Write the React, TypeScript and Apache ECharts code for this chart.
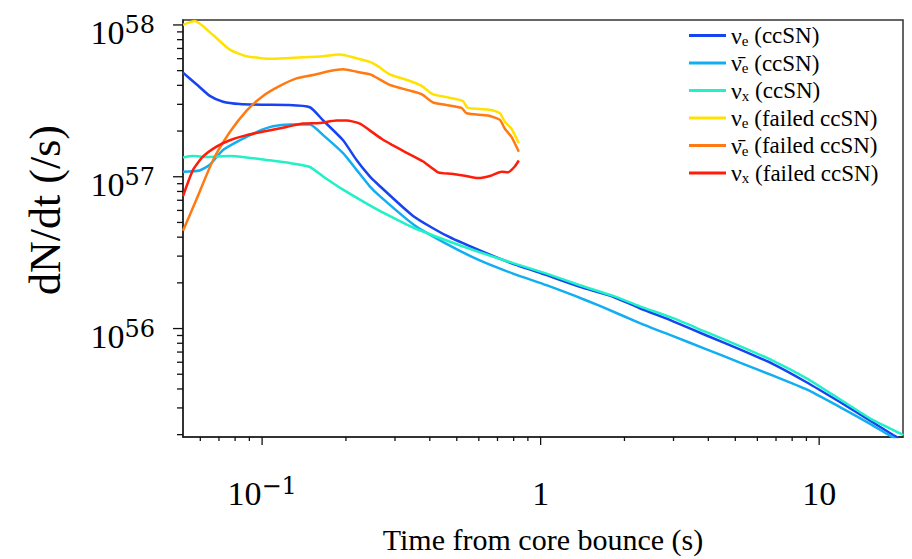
import React, { useEffect, useRef } from 'react';
import * as echarts from 'echarts';

const X_MIN = 0.052;
const X_MAX = 20;
const Y_MIN = 1.93e55;
const Y_MAX = 1.078e58;

const xMajorTicks = [0.1, 1, 10];
const xMinorTicks = [0.06, 0.07, 0.08, 0.09, 0.2, 0.3, 0.4, 0.5, 0.6, 0.7, 0.8, 0.9, 2, 3, 4, 5, 6, 7, 8, 9];
const yMajorTicks = [1e56, 1e57, 1e58];
const yMinorTicks = [2e55, 3e55, 4e55, 5e55, 6e55, 7e55, 8e55, 9e55, 2e56, 3e56, 4e56, 5e56, 6e56, 7e56, 8e56, 9e56, 2e57, 3e57, 4e57, 5e57, 6e57, 7e57, 8e57, 9e57];

const nueCC: [number, number][] = [
  [0.052, 4.85e57], [0.0581, 4.07e57], [0.0649, 3.41e57], [0.0724, 3.12e57], [0.0832, 3.01e57],
  [0.1008, 2.98e57], [0.1224, 2.97e57], [0.1484, 2.87e57], [0.1656, 2.35e57], [0.1953, 1.74e57],
  [0.2183, 1.29e57], [0.2435, 1.005e57], [0.2575, 9.09e56], [0.3484, 5.52e56], [0.4594, 4.09e56],
  [0.6047, 3.27e56], [0.7966, 2.67e56], [1.05, 2.25e56], [1.383, 1.885e56], [1.821, 1.62e56],
  [2.271, 1.36e56], [2.99, 1.116e56], [3.942, 9.0e55], [5.192, 7.3e55], [6.836, 5.83e55],
  [9.01, 4.43e55], [11.87, 3.28e55], [14.8, 2.56e55], [18.44, 1.99e55], [19.3, 1.9e55],
];
const anueCC: [number, number][] = [
  [0.052, 1.08e57], [0.0597, 1.10e57], [0.0649, 1.20e57], [0.0724, 1.50e57], [0.0832, 1.74e57],
  [0.0955, 1.97e57], [0.1095, 2.15e57], [0.1257, 2.21e57], [0.1484, 2.21e57], [0.1656, 1.88e57],
  [0.1953, 1.43e57], [0.2183, 1.11e57], [0.2435, 8.65e56], [0.2647, 7.45e56], [0.3484, 4.87e56],
  [0.4594, 3.61e56], [0.6047, 2.81e56], [0.7966, 2.30e56], [1.05, 1.93e56], [1.308, 1.66e56],
  [1.632, 1.41e56], [2.271, 1.087e56], [2.99, 8.91e55], [3.942, 7.3e55], [5.192, 5.97e55],
  [6.836, 4.89e55], [9.01, 3.97e55], [11.87, 3.04e55], [14.8, 2.43e55], [17.94, 1.97e55], [18.8, 1.88e55],
];
const nuxCC: [number, number][] = [
  [0.052, 1.34e57], [0.0565, 1.37e57], [0.0632, 1.35e57], [0.0766, 1.37e57], [0.088, 1.34e57],
  [0.1037, 1.29e57], [0.1257, 1.23e57], [0.1484, 1.16e57], [0.1656, 1.005e57], [0.1953, 8.22e56],
  [0.2435, 6.47e56], [0.2647, 5.95e56], [0.3484, 4.63e56], [0.4594, 3.80e56], [0.6047, 3.18e56],
  [0.7966, 2.70e56], [1.05, 2.30e56], [1.383, 1.93e56], [1.821, 1.64e56], [2.271, 1.40e56],
  [2.99, 1.17e56], [3.942, 9.46e55], [5.192, 7.67e55], [6.836, 6.13e55], [9.01, 4.70e55],
  [11.87, 3.42e55], [15.63, 2.49e55], [19.76, 2.02e55], [20, 1.98e55],
];
const nueFail: [number, number][] = [
  [0.052, 1.0e58], [0.0573, 1.06e58], [0.0665, 8.61e57], [0.0766, 6.88e57], [0.088, 6.22e57],
  [0.1092, 5.98e57], [0.140, 6.13e57], [0.161, 6.19e57], [0.190, 6.38e57], [0.2117, 6.13e57],
  [0.2435, 5.71e57], [0.2603, 5.35e57], [0.2873, 4.73e57], [0.3336, 4.32e57], [0.3736, 3.97e57],
  [0.410, 3.50e57], [0.453, 3.36e57], [0.5255, 3.16e57], [0.5477, 2.84e57], [0.646, 2.77e57],
  [0.714, 2.62e57], [0.744, 2.30e57], [0.786, 2.07e57], [0.835, 1.66e57],
];
const anueFail: [number, number][] = [
  [0.052, 4.41e56], [0.0581, 7.08e56], [0.0667, 1.29e57], [0.0766, 1.97e57], [0.088, 2.73e57],
  [0.1008, 3.41e57], [0.1158, 3.97e57], [0.1329, 4.45e57], [0.1525, 4.68e57], [0.175, 4.97e57],
  [0.1954, 5.10e57], [0.2183, 4.92e57], [0.2435, 4.73e57], [0.2603, 4.45e57], [0.2873, 4.03e57],
  [0.3336, 3.72e57], [0.3736, 3.50e57], [0.410, 3.09e57], [0.453, 2.98e57], [0.520, 2.84e57],
  [0.542, 2.62e57], [0.648, 2.53e57], [0.714, 2.37e57], [0.744, 2.07e57], [0.786, 1.83e57], [0.835, 1.46e57],
];
const nuxFail: [number, number][] = [
  [0.052, 7.45e56], [0.0565, 1.11e57], [0.0614, 1.36e57], [0.0686, 1.58e57], [0.0766, 1.74e57],
  [0.088, 1.88e57], [0.1037, 2.00e57], [0.1224, 2.13e57], [0.1404, 2.24e57], [0.161, 2.26e57],
  [0.185, 2.35e57], [0.201, 2.35e57], [0.2243, 2.24e57], [0.2435, 2.02e57], [0.2684, 1.78e57],
  [0.2915, 1.63e57], [0.3254, 1.46e57], [0.3787, 1.26e57], [0.4285, 1.07e57], [0.4786, 1.045e57],
  [0.534, 1.015e57], [0.5965, 9.8e56], [0.6664, 1.02e57], [0.724, 1.08e57], [0.7645, 1.07e57],
  [0.808, 1.17e57], [0.835, 1.28e57],
];

const seriesNames = ['nue_cc', 'anue_cc', 'nux_cc', 'nue_fail', 'anue_fail', 'nux_fail'];
const seriesData = [nueCC, anueCC, nuxCC, nueFail, anueFail, nuxFail];
const seriesColors = ['#1744f2', '#12aef2', '#22f0c6', '#ffe200', '#ff7a12', '#ff1c08'];
const legendLabels: Record<string, string> = {
  nue_cc: '{g|ν}{sub|e}{t| (ccSN)}',
  anue_cc: '{g|ν\u0304}{sub|e}{t| (ccSN)}',
  nux_cc: '{g|ν}{sub|x}{t| (ccSN)}',
  nue_fail: '{g|ν}{sub|e}{t| (failed ccSN)}',
  anue_fail: '{g|ν\u0304}{sub|e}{t| (failed ccSN)}',
  nux_fail: '{g|ν}{sub|x}{t| (failed ccSN)}',
};
const xTitle = 'Time from core bounce (s)';
const yTitle = 'dN/dt (/s)';

const SERIF = "'Liberation Serif', 'DejaVu Serif', serif";
const SUPFONT = "'DejaVu Serif', 'Liberation Serif', serif";

export default function App() {
  const ref = useRef<HTMLDivElement>(null);
  useEffect(() => {
    const chart = echarts.init(ref.current as HTMLDivElement, null, { renderer: 'svg' });
    const rich = {
      b: { fontSize: 34, fontFamily: SERIF, color: '#000', lineHeight: 34, padding: [15, 0, 0, 0] },
      s: { fontSize: 24, fontFamily: SUPFONT, color: '#000', lineHeight: 24, padding: [0, 0, 0, 0] },
    };
    const isPow = (v: number) => Math.abs(Math.log10(v) - Math.round(Math.log10(v))) < 1e-6;
    const tickSeries = (axis: 'x' | 'y', values: number[], len: number) => ({
      type: 'custom',
      silent: true,
      clip: false,
      z: 10,
      data: values.map((v) => (axis === 'x' ? [v, Y_MIN] : [X_MIN, v])),
      renderItem: (_p: any, api: any) => {
        const p = api.coord([api.value(0), api.value(1)]);
        return axis === 'x'
          ? { type: 'line', shape: { x1: p[0], y1: p[1], x2: p[0], y2: p[1] + len }, style: { stroke: '#111', lineWidth: 1.3 } }
          : { type: 'line', shape: { x1: p[0] - len, y1: p[1], x2: p[0], y2: p[1] }, style: { stroke: '#111', lineWidth: 1.3 } };
      },
    });
    const option: any = {
      animation: false,
      backgroundColor: '#fff',
      grid: { left: 183, right: 9, top: 20, bottom: 117, show: true, borderColor: '#333', borderWidth: 1.5 },
      legend: {
        data: seriesNames,
        orient: 'vertical',
        left: 684,
        top: 18,
        icon: 'rect',
        itemWidth: 37,
        itemHeight: 3,
        itemGap: 2.5,
        selectedMode: false,
        formatter: (n: string) => legendLabels[n],
        textStyle: {
          rich: {
            g: { fontSize: 24, fontFamily: SERIF, color: '#000', lineHeight: 26 },
            sub: { fontSize: 15, fontFamily: SERIF, color: '#000', lineHeight: 16, padding: [10, 0, 0, 0] },
            t: { fontSize: 23, fontFamily: SERIF, color: '#000', lineHeight: 26 },
          },
        },
      },
      graphic: [
        {
          type: 'text',
          x: 45,
          y: 210,
          rotation: Math.PI / 2,
          silent: true,
          style: { text: yTitle, fontSize: 44, fontFamily: SERIF, fill: '#000', align: 'center', verticalAlign: 'middle' },
        },
      ],
      xAxis: {
        type: 'log',
        logBase: 10,
        min: X_MIN,
        max: X_MAX,
        name: xTitle,
        nameLocation: 'middle',
        nameGap: 87,
        nameTextStyle: { fontFamily: SERIF, fontSize: 30, color: '#000' },
        axisLine: { show: true, lineStyle: { color: '#222', width: 1.5 } },
        axisTick: { show: false },
        splitLine: { show: false },
        axisLabel: {
          margin: 32,
          rich,
          formatter: (v: number) => {
            if (!isPow(v)) return '';
            const e = Math.round(Math.log10(v));
            if (e === 0) return '{b|1}';
            if (e === 1) return '{b|10}';
            return `{b|10}{s|${e < 0 ? '\u2212' + -e : e}}`;
          },
        },
      },
      yAxis: {
        type: 'log',
        logBase: 10,
        min: Y_MIN,
        max: Y_MAX,
        axisLine: { show: true, lineStyle: { color: '#222', width: 1.5 } },
        axisTick: { show: false },
        splitLine: { show: false },
        axisLabel: {
          margin: 28,
          rich,
          formatter: (v: number) => (isPow(v) ? `{b|10}{s|${Math.round(Math.log10(v))}}` : ''),
        },
      },
      series: [
        ...seriesNames.map((name, i) => ({
          type: 'line',
          name,
          data: seriesData[i],
          showSymbol: false,
          symbol: 'none',
          smooth: 0.2,
          lineStyle: { color: seriesColors[i], width: 2.5 },
          itemStyle: { color: seriesColors[i] },
          z: 3,
        })),
        tickSeries('x', xMajorTicks, 8),
        tickSeries('x', xMinorTicks, 4),
        tickSeries('y', yMajorTicks, 10),
        tickSeries('y', yMinorTicks, 6),
      ],
    };
    chart.setOption(option);
    return () => chart.dispose();
  }, []);
  return <div ref={ref} style={{ position: 'fixed', left: 0, top: 0, width: 912, height: 559 }} />;
}
